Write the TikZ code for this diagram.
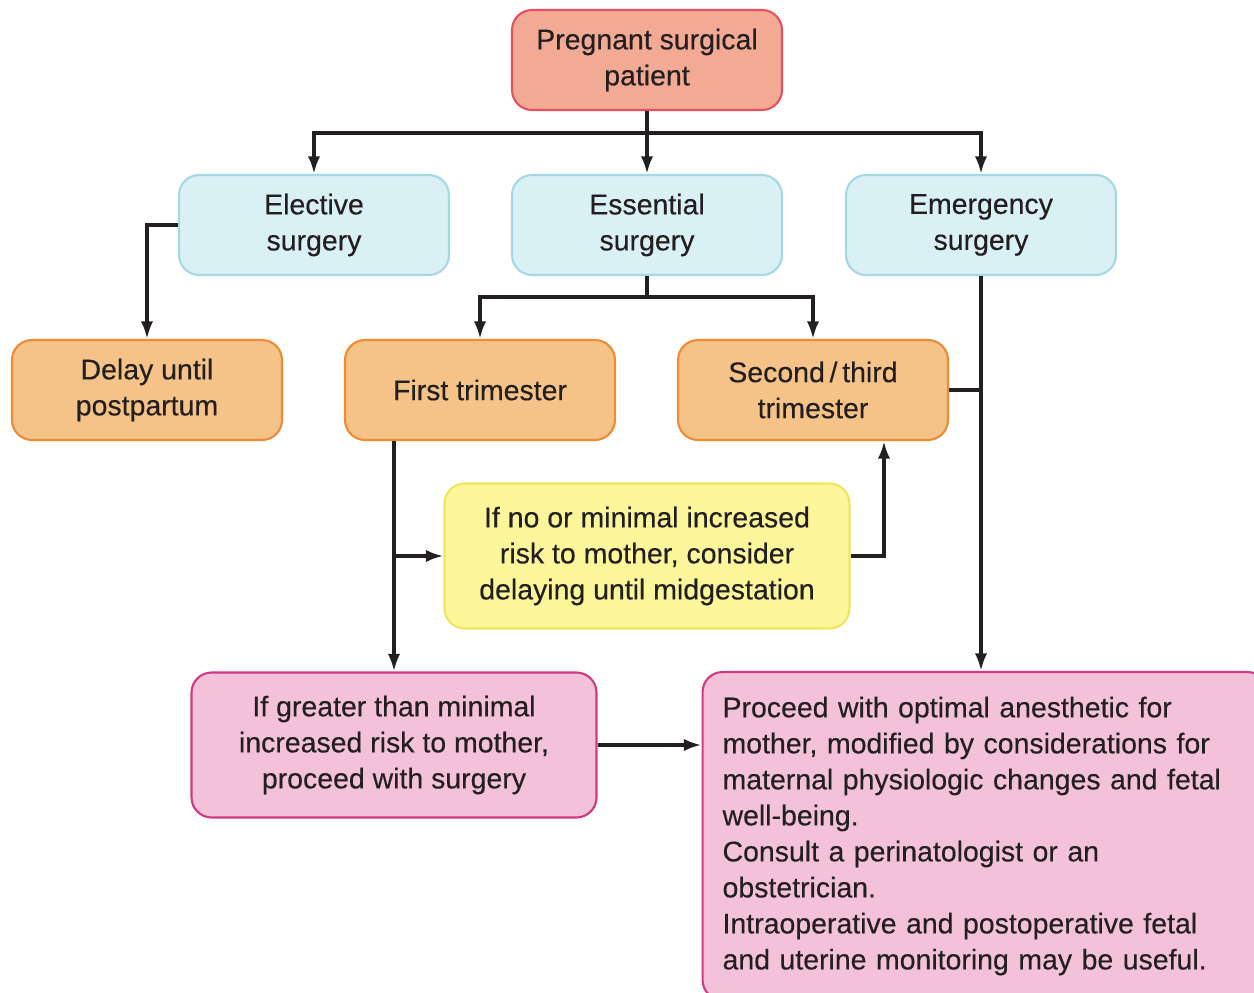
\documentclass[tikz,border=0pt]{standalone}
\usepackage{fontspec}
\setmainfont[FakeBold=0.3]{Liberation Sans}
\usetikzlibrary{arrows.meta}

\definecolor{patientfill}{HTML}{F3AA95}
\definecolor{patientline}{HTML}{E5505E}
\definecolor{surgfill}{HTML}{D9F0F4}
\definecolor{surgline}{HTML}{A5D8E2}
\definecolor{trifill}{HTML}{F5C387}
\definecolor{triline}{HTML}{EE8B34}
\definecolor{delayfill}{HTML}{FCF69B}
\definecolor{delayline}{HTML}{EEE65A}
\definecolor{actfill}{HTML}{F3C2D9}
\definecolor{actline}{HTML}{CF3A80}
\definecolor{ink}{HTML}{231F20}

\begin{document}
\begin{tikzpicture}[x=0.02cm, y=-0.02cm,
	every node/.style={font=\fontsize{16.2}{20.5}\selectfont, text=ink},
	box/.style={draw, line width=1.2pt, rounded corners=0.4cm, align=center,
		minimum width=5.4cm, minimum height=2cm, inner sep=2pt},
	wide/.style={box, minimum width=8.1cm, minimum height=2.9cm},
	link/.style={line width=1.9pt, draw=ink},
	arrow/.style={link, -{Latex[length=10pt,width=7pt]}}]

	% Fix the page
	\useasboundingbox (0,0) rectangle (1254,993);
	\clip (0,0) rectangle (1254,993);

	% Draw the boxes
	\node[box, fill=patientfill, draw=patientline] (patient) at (647,60) {Pregnant surgical\\patient};

	\node[box, fill=surgfill, draw=surgline] (elective) at (314,225) {Elective\\surgery};
	\node[box, fill=surgfill, draw=surgline] (essential) at (647,225) {Essential\\surgery};
	\node[box, fill=surgfill, draw=surgline] (emergency) at (981,225) {Emergency\\surgery};

	\node[box, fill=trifill, draw=triline] (delay) at (147,390) {Delay until\\postpartum};
	\node[box, fill=trifill, draw=triline] (first) at (480,390) {First trimester};
	\node[box, fill=trifill, draw=triline] (second) at (813,390) {Second\,/\,third\\trimester};

	\node[wide, fill=delayfill, draw=delayline] (delaying) at (647,556) {If no or minimal increased\\risk to mother, consider\\delaying until midgestation};

	\node[wide, fill=actfill, draw=actline] (greater) at (394,745) {If greater than minimal\\increased risk to mother,\\proceed with surgery};

	\node[box, fill=actfill, draw=actline, align=left, text width=10.5cm,
		minimum width=11.3cm, minimum height=6.56cm, inner xsep=0.4cm] (proceed) at (985,836)
		{Proceed with optimal anesthetic for\\mother, modified by considerations for\\maternal physiologic changes and fetal\\well-being.\\Consult a perinatologist or an\\obstetrician.\\Intraoperative and postoperative fetal\\and uterine monitoring may be useful.};

	% Draw the split below the patient
	\coordinate (split1) at (647,133);
	\draw[arrow] (patient) -- (essential);
	\draw[arrow] (split1) -| (elective.north);
	\draw[arrow] (split1) -| (emergency.north);

	% Elective goes to the left
	\draw[arrow] (elective.west) -| (delay.north);

	% Essential splits into the trimesters
	\coordinate (split2) at (647,297);
	\draw[link] (essential.south) -- (split2);
	\draw[arrow] (split2) -| (first.north);
	\draw[arrow] (split2) -| (second.north);

	% First trimester goes down
	\coordinate (branch) at (395,556);
	\draw[arrow] (first.south -| greater.north) -- (greater.north);
	\draw[arrow] (branch) -- (delaying.west);
	\draw[arrow] (delaying.east) -| ([xshift=1.42cm]second.south);

	% Emergency and second/third go to the right box
	\draw[arrow] (emergency.south) -- (emergency.south |- proceed.north);
	\draw[link] (second.east) -- (second.east -| emergency.south);
	\draw[arrow] (greater.east) -- (greater.east -| proceed.west);
\end{tikzpicture}
\end{document}
